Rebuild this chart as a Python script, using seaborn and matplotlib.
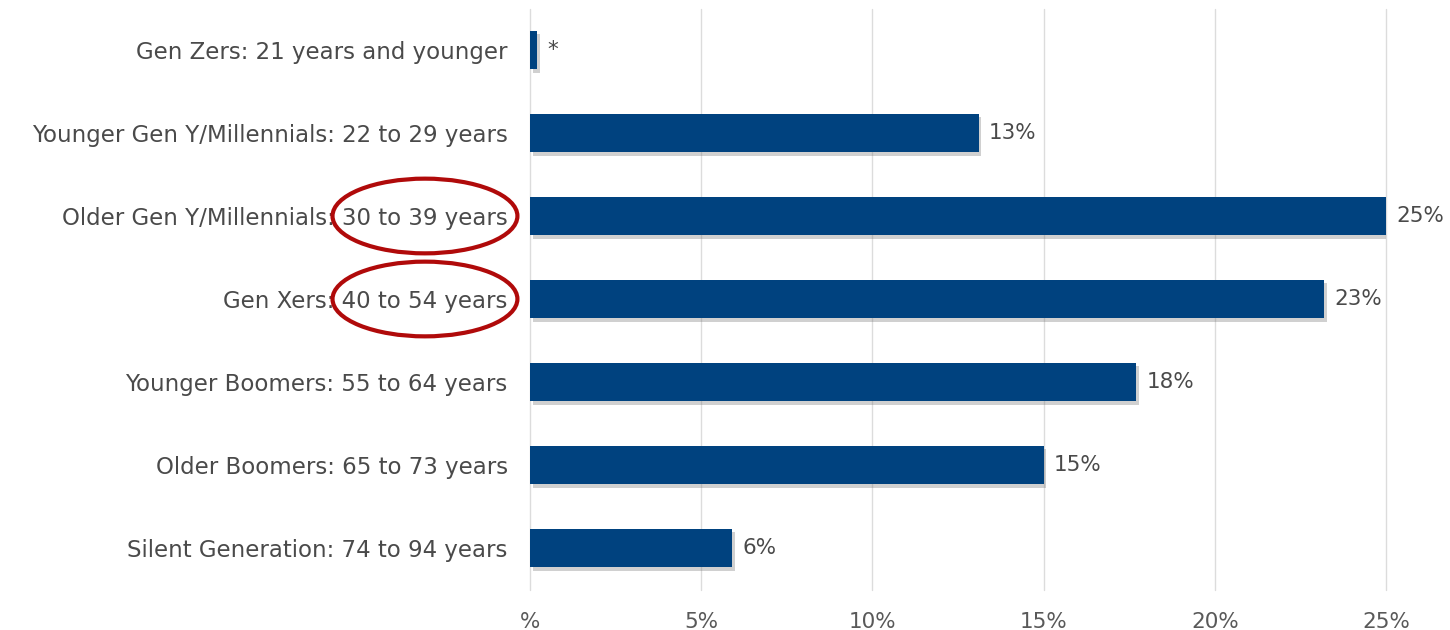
import matplotlib
matplotlib.use("Agg")
import matplotlib.pyplot as plt
import matplotlib.patheffects as pe
from matplotlib.patches import Ellipse
from matplotlib.transforms import blended_transform_factory
import seaborn as sns
import pandas as pd

categories = [
    "Gen Zers: 21 years and younger",
    "Younger Gen Y/Millennials: 22 to 29 years",
    "Older Gen Y/Millennials: 30 to 39 years",
    "Gen Xers: 40 to 54 years",
    "Younger Boomers: 55 to 64 years",
    "Older Boomers: 65 to 73 years",
    "Silent Generation: 74 to 94 years",
]
values = [0.2, 13.1, 25.0, 23.2, 17.7, 15.0, 5.9]
value_labels = ["*", "13%", "25%", "23%", "18%", "15%", "6%"]
x_ticks = [0, 5, 10, 15, 20, 25]
x_tick_labels = ["%", "5%", "10%", "15%", "20%", "25%"]
highlighted = ["Older Gen Y/Millennials: 30 to 39 years", "Gen Xers: 40 to 54 years"]

df = pd.DataFrame({"category": categories, "value": values})

sns.set_theme(style="white")
plt.rcParams["font.family"] = ["DejaVu Sans"]

fig = plt.figure(figsize=(14.5, 6.3), dpi=100)
ax = fig.add_axes([530 / 1450, 1 - 589.5 / 630, (1386 - 530) / 1450, (589.5 - 8.5) / 630])

bar_color = "#00427f"
sns.barplot(data=df, x="value", y="category", orient="h", color=bar_color,
            width=0.46, saturation=1, linewidth=0, ax=ax, zorder=3)
for p in ax.patches:
    p.set_path_effects([pe.SimplePatchShadow(offset=(2, -2.5), shadow_rgbFace="#666666", alpha=0.3),
                        pe.Normal()])

ax.set_xlim(0, 25)
ax.set_ylim(6.5, -0.5)
ax.set_xticks(x_ticks)
ax.set_xticklabels(x_tick_labels, fontsize=15.5, color="#595959")
ax.tick_params(axis="x", length=0, pad=16)
ax.tick_params(axis="y", length=0, pad=16, labelsize=16.5, labelcolor="#4a4a4a")
ax.set_xlabel("")
ax.set_ylabel("")
ax.grid(axis="x", color="#dcdcdc", linewidth=1, zorder=0)
for gl in ax.get_xgridlines():
    gl.set_clip_on(False)
for s in ax.spines.values():
    s.set_visible(False)

for i, (v, lab) in enumerate(zip(values, value_labels)):
    ax.text(v + 0.3, i, lab, va="center", ha="left", fontsize=15.5, color="#4a4a4a",
            clip_on=False)

trans = blended_transform_factory(ax.transAxes, ax.transData)
for cat in highlighted:
    idx = categories.index(cat)
    e = Ellipse((-0.1227, idx), 0.216, 0.9, transform=trans, fill=False,
                edgecolor="#b00a0a", linewidth=3, clip_on=False, zorder=5)
    ax.add_patch(e)

fig.savefig("out.png", dpi=100)
